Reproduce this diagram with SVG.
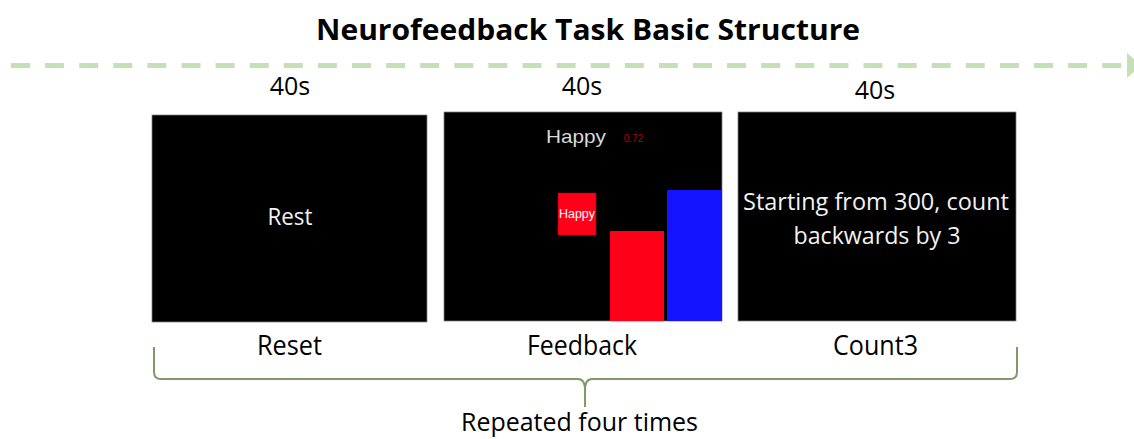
<svg xmlns="http://www.w3.org/2000/svg" width="1134" height="439" viewBox="0 0 1134 439">
<style>
.t{font-family:"Open Sans","Liberation Sans",sans-serif;fill:#000;text-anchor:middle}
.w{font-family:"Open Sans","Liberation Sans",sans-serif;fill:#f2f2f2;text-anchor:middle}
.panel{fill:#000;stroke:#7f7f7f;stroke-width:0.75}
.h{font-family:"Liberation Sans",Arial,sans-serif}
</style>
<rect width="1134" height="439" fill="#fff"/>
<text class="t" x="588" y="40" font-size="29" font-weight="bold" textLength="544" lengthAdjust="spacingAndGlyphs">Neurofeedback Task Basic Structure</text>
<g id="connectors">
<line x1="11" y1="65.5" x2="1122" y2="65.5" stroke="#c5e0b4" stroke-width="5" stroke-dasharray="19 15.1"/>
<polygon points="1127,53 1141,65.5 1127,78" fill="#c5e0b4"/>
<path d="M154,347 V372 Q154,379 161,379 H578 Q585,379 585,390 V407 M585,390 Q585,379 592,379 H1010 Q1017,379 1017,372 V347" fill="none" stroke="#7f9a65" stroke-width="2"/>
</g>
<g id="node-rest">
<text class="t" x="290" y="95" font-size="25">40s</text>
<rect class="panel" x="152" y="115" width="275" height="207"/>
<text class="w" x="290" y="225" font-size="24" textLength="45" lengthAdjust="spacingAndGlyphs">Rest</text>
<text class="t" x="289.5" y="355" font-size="27" textLength="65" lengthAdjust="spacingAndGlyphs">Reset</text>
</g>
<g id="node-feedback">
<text class="t" x="582" y="95" font-size="25">40s</text>
<rect class="panel" x="444" y="112" width="278" height="209"/>
<text class="h" x="576" y="143" font-size="19" fill="#d9d9d9" text-anchor="middle" textLength="60" lengthAdjust="spacingAndGlyphs">Happy</text>
<text class="h" x="633.5" y="142" font-size="10" fill="#b00000" text-anchor="middle">0.72</text>
<rect x="558" y="193" width="38" height="42" fill="#ff0019" stroke="#b00012" stroke-width="0.5"/>
<text class="h" x="577" y="218" font-size="12.5" fill="#fff" text-anchor="middle" textLength="36" lengthAdjust="spacingAndGlyphs">Happy</text>
<rect x="610" y="231" width="54" height="90" fill="#ff0019"/>
<rect x="667" y="190" width="55" height="131" fill="#1414ff"/>
<text class="t" x="582" y="355" font-size="27" textLength="110" lengthAdjust="spacingAndGlyphs">Feedback</text>
</g>
<g id="node-count3">
<text class="t" x="875" y="99" font-size="25">40s</text>
<rect class="panel" x="738" y="112" width="278" height="209"/>
<text class="w" x="876" y="210" font-size="24" textLength="266" lengthAdjust="spacingAndGlyphs">Starting from 300, count</text>
<text class="w" x="877" y="244" font-size="24" textLength="167" lengthAdjust="spacingAndGlyphs">backwards by 3</text>
<text class="t" x="875.5" y="355" font-size="27" textLength="85" lengthAdjust="spacingAndGlyphs">Count3</text>
</g>
<text class="t" x="579.5" y="431" font-size="26" textLength="237" lengthAdjust="spacingAndGlyphs">Repeated four times</text>
</svg>
